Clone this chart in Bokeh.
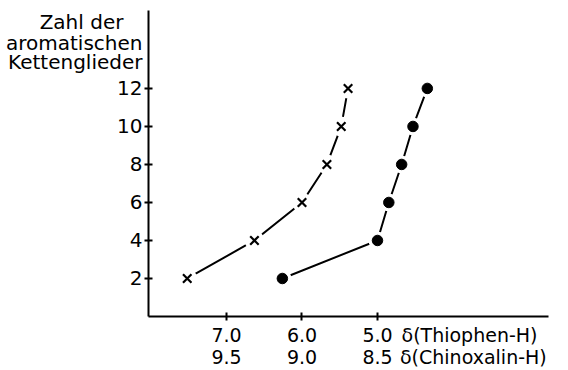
from bokeh.plotting import figure
from bokeh.models import Range1d, LinearAxis, FixedTicker
from bokeh.embed import file_html
from bokeh.resources import INLINE

# Data
glieder = [2, 4, 6, 8, 10, 12]
thiophen_h = [7.52, 6.63, 6.00, 5.67, 5.48, 5.39]
chinoxalin_h = [9.13, 8.50, 8.425, 8.34, 8.265, 8.17]
thiophen_ticks = [7.0, 6.0, 5.0]
chinoxalin_ticks = [9.5, 9.0, 8.5]
y_ticks = [2, 4, 6, 8, 10, 12]
y_title = ["Zahl der\u00a0\u00a0\u00a0", "aromatischen", "Kettenglieder"]
thiophen_name = "δ(Thiophen-H)"
chinoxalin_name = "δ(Chinoxalin-H)"

# where the axis names sit (axis units)
y_title_pos = [15.5, 14.37, 13.37]
thiophen_name_pos = 3.781
chinoxalin_name_pos = 7.865

FONT = "DejaVu Sans"

p = figure(width=568, height=370, output_backend="svg", toolbar_location=None,
           x_range=Range1d(8.033, 2.735), y_range=Range1d(0, 16.1),
           x_axis_type=None, y_axis_type=None,
           min_border_left=148, min_border_right=20, min_border_top=10, min_border_bottom=54)
p.outline_line_color = None
p.xgrid.grid_line_color = None
p.ygrid.grid_line_color = None
p.background_fill_color = "white"
p.border_fill_color = "white"
p.extra_x_ranges = {"chin": Range1d((8.033 + 12) / 2, (2.735 + 12) / 2)}


def line_axis(ticks, **kw):
    ax = LinearAxis(**kw)
    ax.ticker = FixedTicker(ticks=ticks)
    ax.axis_line_width = 2
    ax.axis_line_color = "black"
    ax.major_tick_line_width = 2
    ax.major_tick_line_color = "black"
    ax.major_tick_in = 4
    ax.major_tick_out = 4
    ax.minor_tick_line_color = None
    ax.major_label_overrides = {t: "" for t in ticks}
    ax.major_label_text_font_size = "0px"
    ax.major_label_standoff = 0
    return ax


def label_axis(ticks, labels, size, standoff, **kw):
    ax = LinearAxis(**kw)
    ax.ticker = FixedTicker(ticks=ticks)
    ax.axis_line_color = None
    ax.major_tick_line_color = None
    ax.major_tick_in = 0
    ax.major_tick_out = 0
    ax.minor_tick_line_color = None
    ax.major_label_overrides = dict(zip(ticks, labels))
    ax.major_label_text_font = FONT
    ax.major_label_text_font_size = size
    ax.major_label_text_color = "black"
    ax.major_label_standoff = standoff
    return ax


# y axis: line + ticks, then labels incl. the axis name
p.add_layout(line_axis(y_ticks), "left")
p.add_layout(label_axis(y_ticks + y_title_pos,
                        [str(t) for t in y_ticks] + y_title, "20px", 2), "left")

# x axes
p.add_layout(line_axis(thiophen_ticks), "below")
p.add_layout(label_axis(thiophen_ticks + [thiophen_name_pos],
                        ["%.1f" % t for t in thiophen_ticks] + [thiophen_name], "19px", 3), "below")
p.add_layout(label_axis(chinoxalin_ticks + [chinoxalin_name_pos],
                        ["%.1f" % t for t in chinoxalin_ticks] + [chinoxalin_name], "19px", -3,
                        x_range_name="chin"), "below")

# Thiophen series (crosses)
p.line(thiophen_h, glieder, line_color="black", line_width=2)
p.scatter(thiophen_h, glieder, marker="circle", size=20, fill_color="white", line_color=None)
p.scatter(thiophen_h, glieder, marker="x", size=12, line_color="black", line_width=2.2)

# Chinoxalin series (dots)
p.line(chinoxalin_h, glieder, line_color="black", line_width=2, x_range_name="chin")
p.scatter(chinoxalin_h, glieder, marker="circle", size=18, fill_color="white", line_color=None,
          x_range_name="chin")
p.scatter(chinoxalin_h, glieder, marker="circle", size=10.5, fill_color="black", line_color="black",
          x_range_name="chin")

open("out.html", "w").write(file_html(p, INLINE))
